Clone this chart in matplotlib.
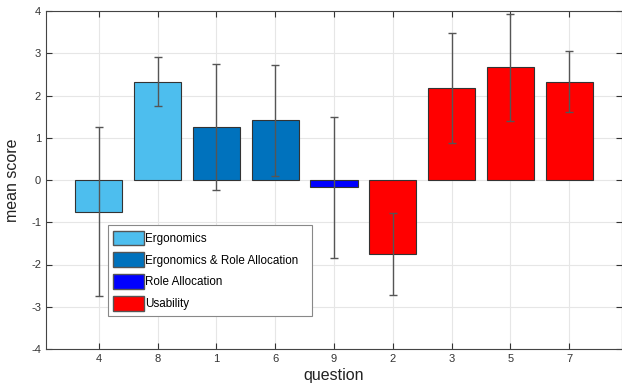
import numpy as np
import matplotlib.pyplot as plt
from matplotlib.patches import Patch

plt.rcParams['font.family'] = ['Liberation Sans', 'DejaVu Sans']
plt.rcParams['axes.unicode_minus'] = False

# question labels in plotted order
questions = ['4', '8', '1', '6', '9', '2', '3', '5', '7']
mean_score = [-0.75, 2.33, 1.25, 1.41, -0.17, -1.75, 2.17, 2.67, 2.33]
err = [2.0, 0.58, 1.49, 1.32, 1.67, 0.97, 1.30, 1.27, 0.72]
group = ['Ergonomics', 'Ergonomics', 'Ergonomics & Role Allocation', 'Ergonomics & Role Allocation',
         'Role Allocation', 'Usability', 'Usability', 'Usability', 'Usability']

group_names = ['Ergonomics', 'Ergonomics & Role Allocation', 'Role Allocation', 'Usability']
group_colors = {'Ergonomics': '#4DBEEE', 'Ergonomics & Role Allocation': '#0072BD',
                'Role Allocation': '#0000FF', 'Usability': '#FF0000'}

fig = plt.figure(figsize=(6.22, 3.87), dpi=100)
ax = fig.add_axes([46 / 622, 1 - 349 / 387, 576 / 622, 338 / 387])

x = np.arange(1, len(questions) + 1)
colors = [group_colors[g] for g in group]
ax.bar(x, mean_score, width=0.8, color=colors, edgecolor='#333333', linewidth=0.8, zorder=2)
ax.errorbar(x, mean_score, yerr=err, fmt='none', ecolor='#555555', elinewidth=1,
            capsize=3, capthick=1, zorder=3)

ax.set_xlim(0.1, 9.9)
ax.set_ylim(-4, 4)
ax.set_xticks(x)
ax.set_xticklabels(questions)
ax.set_yticks(np.arange(-4, 5, 1))
ax.tick_params(direction='in', top=True, right=True, labelsize=8, colors='#333333', length=4)
ax.grid(True, color='#e6e6e6', linewidth=0.8, zorder=0)
ax.set_axisbelow(True)
for s in ax.spines.values():
    s.set_color('#444444')
    s.set_linewidth(0.8)

ax.set_xlabel('question', fontsize=11.5, color='#222222', labelpad=3)
ax.set_ylabel('mean score', fontsize=11.5, color='#222222', labelpad=8)

# legend box stretched to the width used in the original
handles = [Patch(facecolor=group_colors[g], edgecolor='#555555', label=g) for g in group_names]
leg = ax.legend(handles=handles, loc='lower left', mode='expand',
                bbox_to_anchor=(62 / 576, 33 / 338, 204 / 576, 0.25),
                fontsize=8.4, fancybox=False, framealpha=1, edgecolor='#888888',
                handlelength=2.6, handleheight=1.55, handletextpad=0.15, labelspacing=0.62,
                borderpad=0.45, borderaxespad=0)
leg.get_frame().set_linewidth(0.8)

fig.savefig('out.png', dpi=100)
